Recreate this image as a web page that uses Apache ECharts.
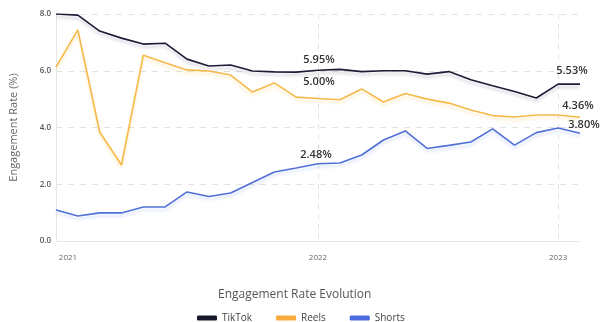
<!DOCTYPE html>
<html>
<head>
<meta charset="utf-8">
<script src="https://cdn.jsdelivr.net/npm/echarts@6/dist/echarts.min.js"></script>
<style>html,body{margin:0;padding:0;background:#fff}#c{width:600px;height:322px}</style>
</head>
<body>
<div id="c"></div>
<script>
// Period tick labels (25 sample points, year labels where a year starts)
const periods = ['2021','','','','','','','','','','','','2022','','','','','','','','','','','2023',''];
const tiktok = [8.00,7.96,7.40,7.15,6.94,6.97,6.41,6.17,6.20,5.99,5.96,5.95,6.02,6.05,5.97,6.00,6.00,5.88,5.97,5.68,5.47,5.27,5.04,5.53,5.53];
const reels  = [6.13,7.44,3.84,2.68,6.55,6.28,6.03,5.99,5.85,5.25,5.57,5.07,5.02,4.98,5.36,4.90,5.20,5.00,4.86,4.62,4.42,4.37,4.44,4.44,4.36];
const shorts = [1.09,0.88,0.99,0.99,1.20,1.20,1.73,1.57,1.69,2.06,2.43,2.57,2.72,2.75,3.03,3.56,3.88,3.26,3.37,3.49,3.95,3.38,3.82,3.98,3.80];
// Annotations shown on the chart [index, text]
const tiktokNotes = [[12,'5.95%'],[24,'5.53%']];
const reelsNotes  = [[12,'5.00%'],[24,'4.36%']];
const shortsNotes = [[12,'2.48%'],[24,'3.80%']];
const yTicks = [0,2,4,6,8];

const labelStyles = {
  tiktok: {12:{distance:4,offset:[1,0]}, 24:{distance:7,offset:[-8,0]}},
  reels:  {12:{distance:10,offset:[1,0]}, 24:{distance:5,offset:[-2,0]}},
  shorts: {12:{distance:2,offset:[-2,0]}, 24:{distance:2,offset:[4,0]}}
};
const F = 'Open Sans';
function marks(values, notes, key){
  return notes.map(n=>{
    const i = n[0], s = labelStyles[key][i];
    return {coord:[i, values[i]], value:values[i],
      label:{show:true, position:'top', distance:s.distance, offset:s.offset,
        formatter:n[1], color:'#333', fontSize:11, fontWeight:600, fontFamily:F}};
  });
}
const chart = echarts.init(document.getElementById('c'), null, {renderer:'canvas'});
function lineSeries(name, values, notes, key, color, lineColor, shadow){
  return {name:name, type:'line', data:values, symbol:'none', color:color,
    emphasis:{disabled:true},
    lineStyle:{width:1.6, color:lineColor, shadowColor:shadow, shadowBlur:3, shadowOffsetY:3},
    markPoint:{symbol:'circle', symbolSize:2, silent:true, animation:false,
      itemStyle:{color:'rgba(255,255,255,0)'},
      data:marks(values, notes, key)}};
}
chart.setOption({
  animation:false,
  title:{text:'Engagement Rate Evolution', left:213, top:284,
    textStyle:{fontFamily:F, fontSize:12, fontWeight:'normal', color:'#555'}},
  legend:{left:192, top:308, itemWidth:20, itemHeight:5, itemGap:24, icon:'roundRect',
    textStyle:{fontFamily:F, fontSize:10, color:'#444'},
    data:['TikTok','Reels','Shorts']},
  grid:{left:56, right:20, top:14, bottom:81},
  xAxis:{type:'category', data:periods, boundaryGap:false,
    axisLine:{show:true, lineStyle:{color:'#e6e6e6'}},
    axisTick:{show:false},
    axisLabel:{interval:0, margin:13, fontFamily:F, fontSize:8, color:'#666',
      formatter:function(v,i){ if(!v) return ''; return i===0 ? '{s|'+v+'}' : v; },
      rich:{s:{padding:[0,0,0,24], fontFamily:F, fontSize:8, color:'#666'}}},
    splitLine:{show:true, interval:function(i){return periods[i]!=='' && i!==0;},
      lineStyle:{type:[5,5], color:'#e2e2e2'}}
  },
  yAxis:{type:'value', min:yTicks[0], max:yTicks[yTicks.length-1], interval:2,
    name:'Engagement Rate (%)', nameLocation:'middle', nameGap:37,
    nameTextStyle:{fontFamily:F, fontSize:11, color:'#666'},
    axisLine:{show:true, lineStyle:{color:'#e6e6e6'}},
    axisTick:{show:false},
    axisLabel:{margin:5, fontFamily:F, fontSize:8, fontWeight:600, color:'#555',
      formatter:function(v){return v.toFixed(1);}},
    splitLine:{lineStyle:{type:[6,6], color:'#e2e2e2'}}
  },
  series:[
    lineSeries('TikTok', tiktok, tiktokNotes, 'tiktok', '#16162e', '#1c1c36', 'rgba(40,40,90,0.22)'),
    lineSeries('Reels', reels, reelsNotes, 'reels', '#f6ab3c', '#f5b94a', 'rgba(250,200,90,0.35)'),
    lineSeries('Shorts', shorts, shortsNotes, 'shorts', '#4a6ce0', '#5170d6', 'rgba(90,130,230,0.25)')
  ]
});
</script>
</body>
</html>
